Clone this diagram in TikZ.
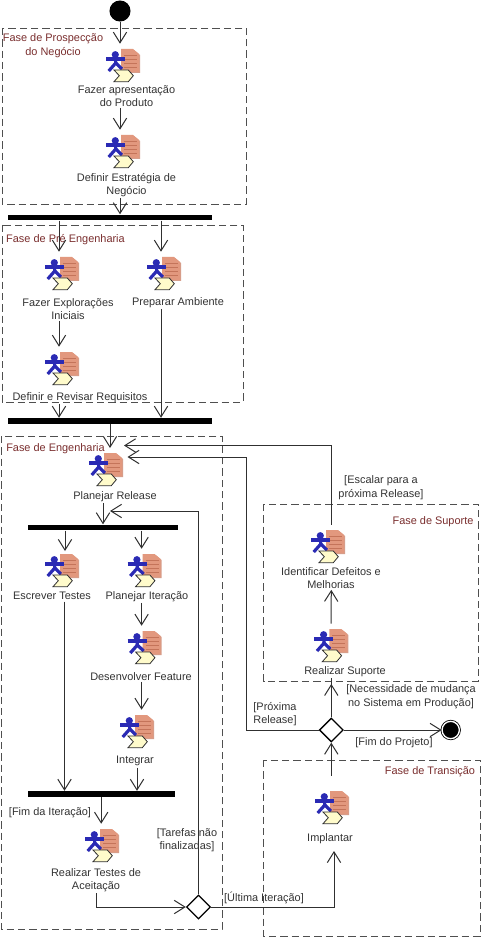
\documentclass[tikz,border=0pt]{standalone}
\usepackage{fontspec}
\setmainfont{Liberation Sans}
\usetikzlibrary{arrows.meta,shapes.geometric}
\definecolor{linha}{HTML}{303030}
\definecolor{fase}{HTML}{7A2E2E}
\definecolor{pagina}{HTML}{E2987E}
\definecolor{pagina2}{HTML}{C4745A}
\definecolor{boneco}{HTML}{2A2AB4}
\definecolor{seta2}{HTML}{FFFBCB}
\tikzset{
	seta/.style={draw=linha, line width=0.75pt, -{Straight Barb[length=8pt,width=10pt]}},
	fio/.style={draw=linha, line width=0.75pt},
	moldura/.style={draw=linha!85, line width=0.7pt, dash pattern=on 5.5pt off 3pt},
	texto/.style={font=\fontsize{8.2pt}{9.8pt}\selectfont, text=black!80, align=center, inner sep=1pt, yshift=-0.9pt},
	rotulofase/.style={texto, text=fase},
	iconebox/.style={minimum width=21pt, minimum height=28.5pt, inner sep=0pt},
	barra/.style={fill=black, minimum height=4.4pt, inner sep=0pt},
	decisao/.style={diamond, draw=black, fill=white, line width=1pt, minimum width=18pt, minimum height=18pt, inner sep=0pt},
	icone/.pic={
		\fill[pagina2!70] (16,1) -- (28,1) -- (34,6) -- (34,24) -- (16,24) -- cycle;
		\fill[pagina] (15,0) -- (27,0) -- (33,5) -- (33,23) -- (15,23) -- cycle;
		\foreach \yy in {6,10,14,18}
			\draw[pagina2, line width=0.6pt] (18,\yy) -- (31,\yy);
		\fill[boneco] (9.3,5.7) circle (3.6);
		\draw[boneco, line width=2.4pt] (0,10) -- (19,10);
		\draw[boneco, line width=2.4pt] (9.3,8) -- (9.8,15);
		\draw[boneco, line width=2.4pt] (2.7,22) -- (9.8,14) -- (16,20);
		\draw[linha, fill=seta2, line width=0.6pt] (8,21) -- (22.3,21) -- (27.3,26.7) -- (22.3,32.7) -- (8,32.7) -- (13.3,26.7) -- cycle;
	}
}
\newcommand{\atividade}[6]{
	\pic at (#2,#3) {icone};
	\node[iconebox] (#1) at (#2+14,#3+14) {};
	\node[texto] (#1txt) at (#5,#6) {#4};
}
\begin{document}
\begin{tikzpicture}[x=0.75pt,y=-0.75pt]
	\useasboundingbox (0,0) rectangle (482,937);
	\fill[white] (0,0) rectangle (482,937);

	% fases
	\draw[moldura] (2,28) rectangle (246.5,204);
	\draw[moldura] (2,225) rectangle (243,402);
	\draw[moldura] (1,436) rectangle (222,929);
	\draw[moldura] (263.5,504) rectangle (478,681);
	\draw[moldura] (263.5,760) rectangle (480,936);
	\node[rotulofase] (faseprosp) at (53,44.5) {Fase de Prospecção\\do Negócio};
	\node[rotulofase] (fasepre) at (65.5,238) {Fase de Pré Engenharia};
	\node[rotulofase] (faseeng) at (55.5,447) {Fase de Engenharia};
	\node[rotulofase] (fasesup) at (433,520) {Fase de Suporte};
	\node[rotulofase] (fasetrans) at (430,770) {Fase de Transição};

	% atividades
	\atividade{apresentacao}{106}{49}{Fazer apresentação\\do Produto}{126.5}{94.5}
	\atividade{estrategia}{106}{135}{Definir Estratégia de\\Negócio}{126.5}{183.5}
	\atividade{exploracoes}{45}{257}{Fazer Explorações\\Iniciais}{68}{307.5}
	\atividade{ambiente}{147}{257}{Preparar Ambiente}{178}{301}
	\atividade{requisitos}{45}{352}{Definir e Revisar Requisitos}{80}{396}
	\atividade{release}{89}{453}{Planejar Release}{115}{495}
	\atividade{testes}{45}{554}{Escrever Testes}{52}{595}
	\atividade{iteracao}{127.6}{554}{Planejar Iteração}{147}{595}
	\atividade{feature}{127.6}{631}{Desenvolver Feature}{141}{675}
	\atividade{integrar}{120}{715}{Integrar}{135}{760}
	\atividade{aceitacao}{85}{829}{Realizar Testes de\\Aceitação}{96}{879}
	\atividade{defeitos}{311}{530}{Identificar Defeitos e\\Melhorias}{331}{576.5}
	\atividade{suporte}{314.3}{629}{Realizar Suporte}{345}{670}
	\atividade{implantar}{315}{791}{Implantar}{330}{837}

	% inicio, fim, barras e decisoes
	\node[circle, fill=black, minimum size=15.8pt, inner sep=0pt] (inicio) at (120,11) {};
	\node[circle, draw=black, line width=0.6pt, fill=black, minimum size=13pt, inner sep=0pt, double=white, double distance=1pt] (fim) at (450.7,730) {};
	\node[barra, minimum width=153.4pt] (barra1) at (110,217.5) {};
	\node[barra, minimum width=153.4pt] (barra2) at (110,421) {};
	\node[barra, minimum width=112.5pt] (barra3) at (103,527.5) {};
	\node[barra, minimum width=110pt] (barra4) at (101.2,794) {};
	\node[decisao] (decisao1) at (198.5,907) {};
	\node[decisao] (decisao2) at (331.3,730) {};
	\coordinate (volta1) at (124,445.5);
	\coordinate (volta2) at (127.5,457);
	\coordinate (volta3) at (110,511);
	\coordinate (entrada) at (110,448);
	\coordinate (implantarsaida) at (334,851);

	% conectores
	\draw[seta] (inicio) -- (inicio |- apresentacao.north);
	\draw[seta] (apresentacaotxt.south -| apresentacao.north) -- (estrategia.north);
	\draw[seta] (estrategiatxt.south -| estrategia.north) -- (barra1.north -| estrategia.north);
	\draw[seta] (barra1.south -| exploracoes.north) -- (exploracoes.north);
	\draw[seta] (barra1.south -| ambiente.north) -- (ambiente.north);
	\draw[seta] (exploracoestxt.south -| exploracoes.north) -- (requisitos.north);
	\draw[seta] (requisitostxt.south -| requisitos.north) -- (barra2.north -| requisitos.north);
	\draw[seta] (ambientetxt.south -| ambiente.north) -- (barra2.north -| ambiente.north);
	\draw[seta] (barra2.south) -- (entrada);
	\draw[seta] (releasetxt.south -| release.north) -- (barra3.north -| release.north);
	\draw[seta] (barra3.south -| 65,0) -- (65,551);
	\draw[seta] (barra3.south -| iteracao.north) -- (iteracao.north);
	\draw[seta] (iteracaotxt.south -| iteracao.north) -- (feature.north);
	\draw[seta] (featuretxt.south -| feature.north) -- (feature.north |- integrar.north);
	\draw[seta] (testestxt.south -| 64.5,0) -- (barra4.north -| 64.5,0);
	\draw[seta] (integrartxt.south -| 137,0) -- (barra4.north -| 137,0);
	\draw[seta] (barra4.south) -- (barra4.south |- aceitacao.north);
	\draw[seta] (aceitacaotxt.south) |- (decisao1.west);
	\draw[seta] (decisao1.north) |- (volta3);
	\draw[seta] (decisao1.east) -| (implantarsaida);
	\draw[seta] (implantar.north -| decisao2.south) ++(0,-10) -- (decisao2.south);
	\draw[seta] (decisao2.north) -- (suportetxt.south -| decisao2.north) ++(0,6);
	\draw[seta] (suporte.north -| defeitos.north) ++(6,0) -- (defeitostxt.south -| decisao2.north);
	\draw[seta] (defeitos.north -| decisao2.north) |- (volta1);
	\draw[seta] (decisao2.west) -| (246.7,457) -- (volta2);
	\draw[seta] (decisao2.east) -- (fim.west);

	% rotulos
	\node[texto] (escalar) at (381,486.5) {[Escalar para a\\próxima Release]};
	\node[texto] (mudanca) at (411,695.5) {[Necessidade de mudança\\no Sistema em Produção]};
	\node[texto] (proxima) at (275,712.5) {[Próxima\\Release]};
	\node[texto] (fimprojeto) at (394,741) {[Fim do Projeto]};
	\node[texto] (fimiteracao) at (50,811) {[Fim da Iteração]};
	\node[texto] (tarefas) at (187,838.5) {[Tarefas não\\finalizadas]};
	\node[texto] (ultima) at (264,897) {[Última Iteração]};
\end{tikzpicture}
\end{document}
